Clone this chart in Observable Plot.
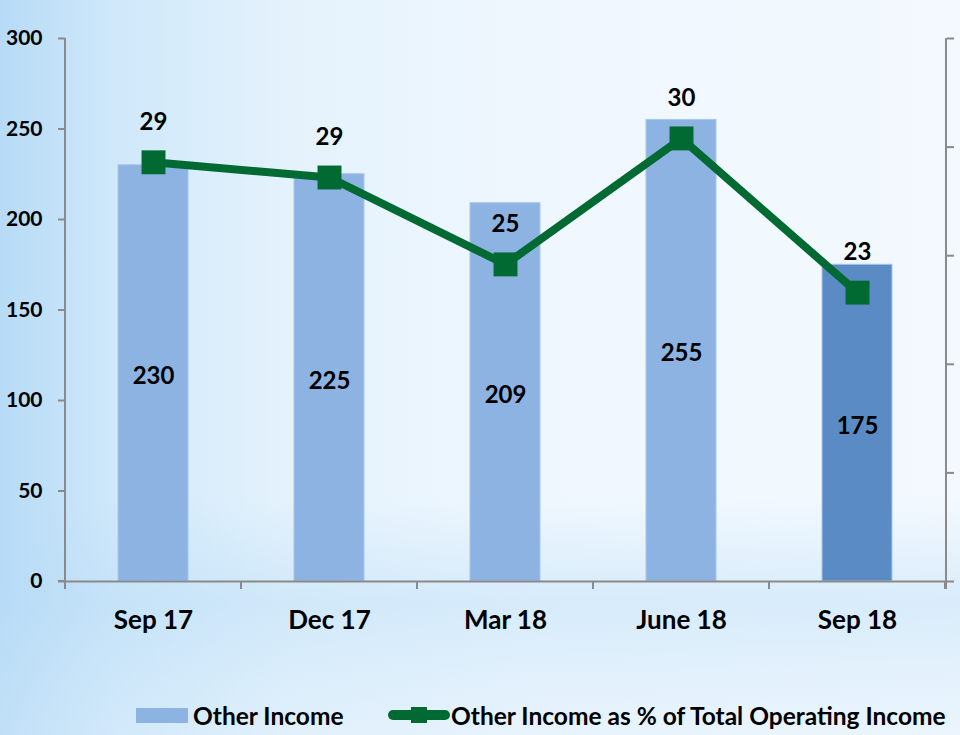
<!DOCTYPE html>
<html>
<head>
<meta charset="utf-8">
<script src="https://cdn.jsdelivr.net/npm/d3@7"></script>
<script src="https://cdn.jsdelivr.net/npm/@observablehq/plot@0.6"></script>
<style>
  html, body { margin: 0; padding: 0; }
  #wrap {
    position: relative; width: 960px; height: 735px; overflow: hidden;
    font-family: Lato, "Open Sans", sans-serif; font-weight: 700;
    background:
      linear-gradient(to bottom, rgba(255,255,255,0) 68%, rgba(185,220,246,0.45) 82%, rgba(200,228,248,0.35) 92%, rgba(215,235,250,0.3) 100%),
      linear-gradient(to right, #b7dbf6 0%, #cfe8fa 12%, #e4f2fc 30%, #eff7fe 55%, #f3f9fe 100%);
  }
  #chart { position: absolute; left: 0; top: 0; }
  #legend { position: absolute; top: 700px; left: 0; width: 960px; height: 30px; }
  .lg-item { position: absolute; top: 0; display: flex; align-items: center; height: 30px; font-size: 24.5px; color: #000; white-space: nowrap; }
</style>
</head>
<body>
<div id="wrap">
  <div id="chart"></div>
  <div id="legend">
    <div class="lg-item" style="left:136px">
      <span style="display:inline-block;width:52px;height:15px;background:#8db3e2;margin-right:5px"></span>Other Income
    </div>
    <div class="lg-item" style="left:388px">
      <svg width="62" height="20" style="margin-right:1px">
        <line x1="5" y1="10" x2="57" y2="10" stroke="#006a32" stroke-width="10" stroke-linecap="round"></line>
        <rect x="23" y="2" width="16" height="16" fill="#006a32"></rect>
      </svg>Other Income as % of Total Operating Income
    </div>
  </div>
</div>
<script>
const categories = ["Sep 17", "Dec 17", "Mar 18", "June 18", "Sep 18"];
const otherIncome = [230, 225, 209, 255, 175];
const pctOfTotal = [29.3, 28.6, 24.6, 30.4, 23.3];
const leftTicks = [0, 50, 100, 150, 200, 250, 300];
const rightTicks = [10, 15, 20, 25, 30, 35];

const data = categories.map((c, i) => ({cat: c, income: otherIncome[i], pct: pctOfTotal[i]}));
const pctScale = d3.scaleLinear([10, 35], [0, 300]);

const axisGray = "#8a8a8a";
const lineGreen = "#006a32";

const plot = Plot.plot({
  width: 960,
  height: 640,
  marginLeft: 65,
  marginRight: 14,
  marginTop: 38,
  marginBottom: 59,
  style: {background: "transparent", fontFamily: "Lato, 'Open Sans', sans-serif", fontWeight: 700, color: "#000", overflow: "visible"},
  x: {domain: categories, paddingInner: 0.6, paddingOuter: 0.3, label: null},
  y: {domain: [0, 300], label: null},
  marks: [
    Plot.barY(data, {x: "cat", y: "income", fill: d => d.cat === "Sep 18" ? "#5b8bc4" : "#8db3e2", stroke: "#a8c6ec", strokeWidth: 1}),
    Plot.text(data, {x: "cat", y: d => d.income / 2, text: d => String(d.income), dy: 3, fontSize: 24, fontWeight: 700, fill: "#000"}),
    Plot.axisY({ticks: leftTicks, tickSize: 7, tickPadding: 16, fontSize: 21, fontWeight: 700, stroke: axisGray, strokeWidth: 2, fill: "#000"}),
    Plot.axisY(rightTicks.map(pctScale), {anchor: "right", tickSize: 7, tickFormat: () => "", stroke: axisGray, strokeWidth: 2}),
    Plot.axisX({tickSize: 0, tickPadding: 29, fontSize: 26, fontWeight: 700, fill: "#000"}),
    Plot.ruleY([0], {stroke: axisGray, strokeWidth: 2}),
    Plot.line(data, {x: "cat", y: d => pctScale(d.pct), stroke: lineGreen, strokeWidth: 8}),
    Plot.dot(data, {x: "cat", y: d => pctScale(d.pct), symbol: "square", r: 13.5, fill: lineGreen, stroke: "none"}),
    Plot.text(data, {x: "cat", y: d => pctScale(d.pct), text: d => d3.format(".0f")(d.pct), dy: -40, fontSize: 24, fontWeight: 700, fill: "#000"})
  ]
});

// axis lines and category boundary ticks from the plot's own scales
const xs = plot.scale("x");
const ys = plot.scale("y");
const svg = d3.select(plot);
const [yBottom, yTop] = ys.range;
const [xLeft, xRight] = xs.range;
const gap = (xs.step - xs.bandwidth) / 2;
const edges = categories.map(c => xs.apply(c) - gap).concat([xs.apply(categories[categories.length - 1]) + xs.bandwidth + gap]);
const g = svg.append("g").attr("stroke", axisGray).attr("stroke-width", 2);
g.append("line").attr("x1", xLeft).attr("x2", xLeft).attr("y1", yTop).attr("y2", yBottom);
g.append("line").attr("x1", xRight).attr("x2", xRight).attr("y1", yTop).attr("y2", yBottom + 8);
g.append("line").attr("x1", xLeft - 7).attr("x2", xLeft).attr("y1", yBottom).attr("y2", yBottom);
edges.forEach(x => g.append("line").attr("x1", x).attr("x2", x).attr("y1", yBottom).attr("y2", yBottom + 8));
// keep line and markers on top
svg.selectAll("g[aria-label='line'], g[aria-label='dot'], g[aria-label='text']").raise();

document.getElementById("chart").appendChild(plot);
</script>
</body>
</html>
